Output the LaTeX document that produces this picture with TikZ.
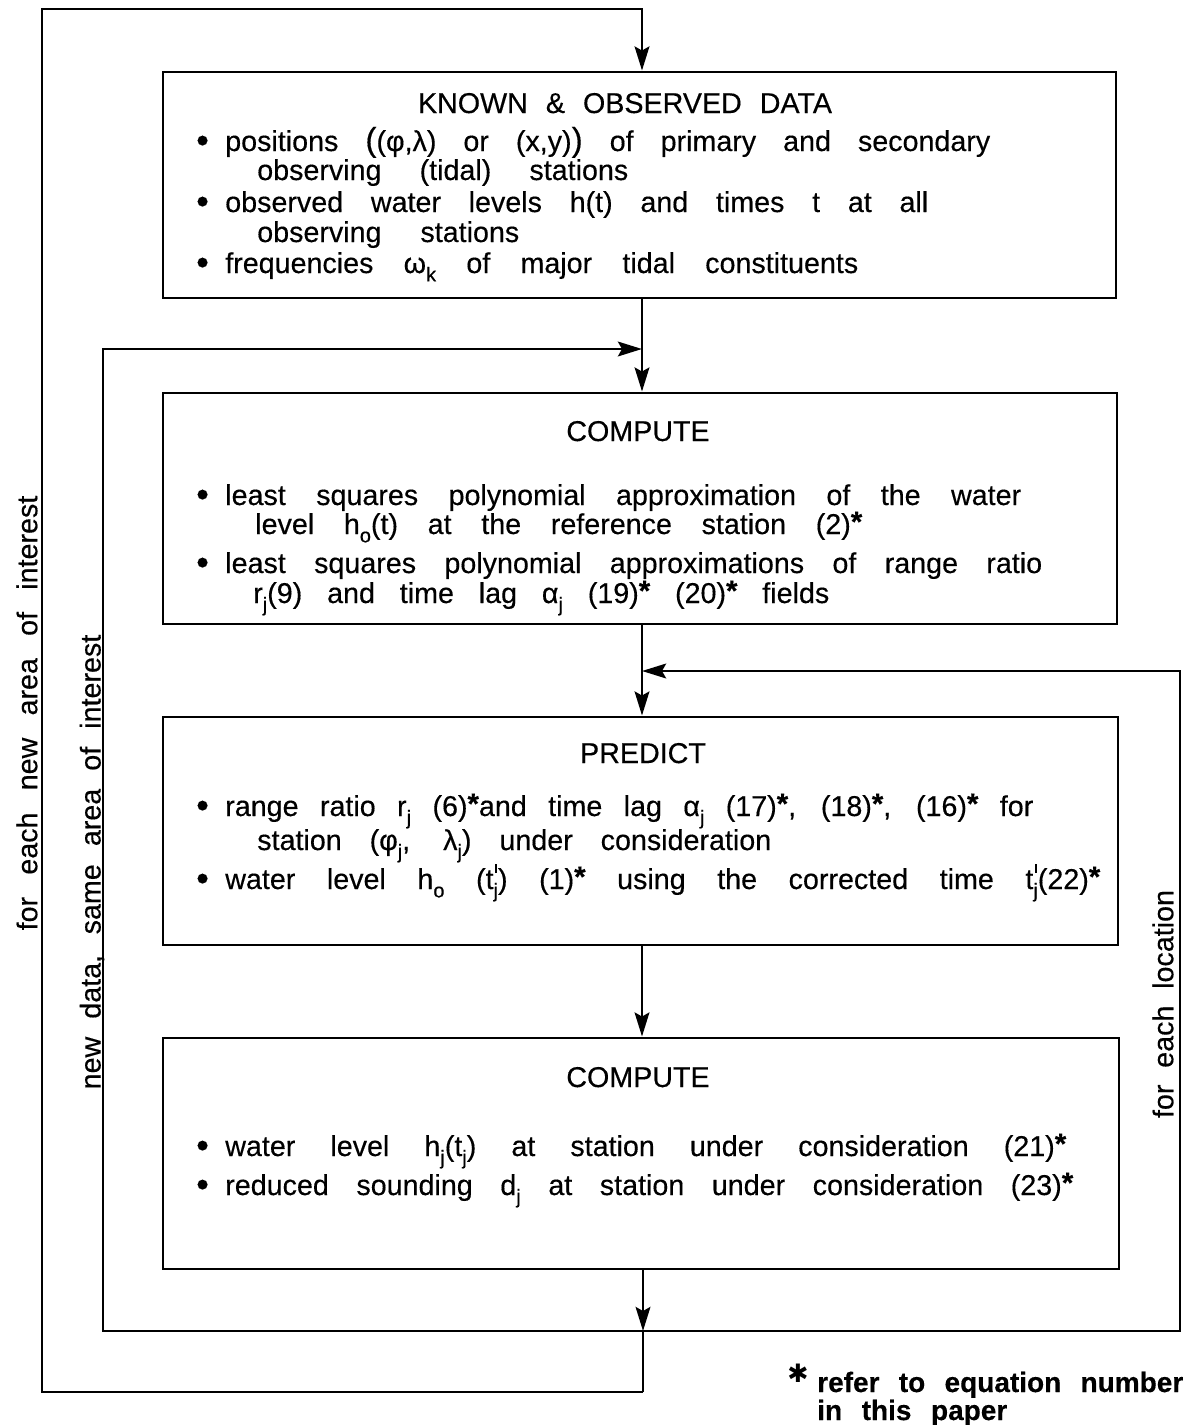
\documentclass[tikz,border=0pt]{standalone}
\usepackage{fontspec}
\setmainfont{Liberation Sans}[FakeBold=0.35]
\newfontfamily\symf{DejaVu Sans}
\usetikzlibrary{arrows.meta}
\newcommand\lo[1]{\smash{\raisebox{-0.55ex}{\fontsize{15}{15}\selectfont #1}}}
\newcommand\st{\smash{\raisebox{0.15ex}{\fontsize{22}{22}\selectfont\bfseries *}}}
\newcommand\ps{\smash{\rlap{\hspace{1.2pt}\raisebox{1.05ex}{\rule{1.4pt}{6.5pt}}}\raisebox{-0.55ex}{\fontsize{15}{15}\selectfont j}}}
\newcommand\bp[1]{{\fontsize{25}{25}\selectfont #1}}
\newcommand\bl[2]{\makebox[21.75pt][l]{\raisebox{-0.1ex}{\fontsize{27}{27}\selectfont\textbullet}}\makebox[#1][s]{#2}}
\newcommand\cl[2]{\makebox[#1][s]{#2}}
\begin{document}
\begin{tikzpicture}[x=0.75pt,y=-0.75pt,
  box/.style={draw, line width=2.2pt, inner sep=0pt},
  ln/.style={line width=2.2pt},
  arr/.style={line width=2.2pt, -{Stealth[length=18pt,width=11pt,inset=3pt]}},
  txt/.style={anchor=base west, inner sep=0pt, font=\fontsize{21.5}{25}\selectfont},
  head/.style={anchor=base, inner sep=0pt, font=\fontsize{21.5}{25}\selectfont},
  vlab/.style={inner sep=0pt, font=\fontsize{21.5}{25}\selectfont},
  note/.style={anchor=base west, inner sep=0pt, font=\bfseries\fontsize{21}{25}\selectfont}]
\path[use as bounding box, fill=white] (0,0) rectangle (1190,1425);

% boxes
\node[box, minimum width=714.75pt, minimum height=169.5pt] (b1) at (639.5,185) {};
\node[box, minimum width=715.5pt, minimum height=173.25pt] (b2) at (640,508.5) {};
\node[box, minimum width=716.25pt, minimum height=171pt] (b3) at (640.5,831) {};
\node[box, minimum width=717pt, minimum height=173.25pt] (b4) at (641,1153.5) {};

% box 1 text
\node[head] (h1) at (625,113) {\makebox[310.5pt][s]{KNOWN \& OBSERVED DATA}};
\node[txt] (t11) at (196,151) {\bl{573.75pt}{positions \bp{(}(φ,λ) or (x,y)\bp{)} of primary and secondary}};
\node[txt] (t12) at (257,180) {\cl{278.25pt}{observing (tidal) stations}};
\node[txt] (t13) at (196,212) {\bl{527.25pt}{observed water levels h(t) and times t at all}};
\node[txt] (t14) at (257,242) {\cl{196.5pt}{observing stations}};
\node[txt] (t15) at (196,273) {\bl{474.75pt}{frequencies ω\lo{k} of major tidal constituents}};

% box 2 text
\node[head] (h2) at (638,441) {COMPUTE};
\node[txt] (t21) at (196,505) {\bl{597pt}{least squares polynomial approximation of the water}};
\node[txt] (t22) at (255,534) {\cl{455.25pt}{level h\lo{o}(t) at the reference station (2)\st}};
\node[txt] (t23) at (196,573) {\bl{612.75pt}{least squares polynomial approximations of range ratio}};
\node[txt] (t24) at (253,603) {\cl{432pt}{r\lo{j}(9) and time lag α\lo{j} (19)\st{} (20)\st{} fields}};

% box 3 text
\node[head] (h3) at (643,763) {PREDICT};
\node[txt] (t31) at (196,816) {\bl{606pt}{range ratio r\lo{j} (6)\st{}and time lag α\lo{j} (17)\st, (18)\st, (16)\st{} for}};
\node[txt] (t32) at (257,850) {\cl{385.5pt}{station (φ\lo{j}, λ\lo{j}) under consideration}};
\node[txt] (t33) at (196,889) {\bl{656.25pt}{water level h\lo{o} (t\ps) (1)\st{} using the corrected time t\ps(22)\st}};

% box 4 text
\node[head] (h4) at (638,1087) {COMPUTE};
\node[txt] (t41) at (196,1156) {\bl{630.75pt}{water level h\lo{j}(t\lo{j}) at station under consideration (21)\st}};
\node[txt] (t42) at (196,1195) {\bl{636pt}{reduced sounding d\lo{j} at station under consideration (23)\st}};

% side labels
\node[vlab, rotate=90] (l1) at (27,713) {\makebox[326pt][s]{for each new area of interest}};
\node[vlab, rotate=90] (l2) at (92,862) {\makebox[341pt][s]{new data, same area of interest}};
\node[vlab, rotate=90] (l3) at (1163,1004) {\makebox[171pt][s]{for each location}};

% note
\node[inner sep=0pt] (ast) at (798,1373) {\symf\fontsize{19}{19}\selectfont ✱};
\node[note] (n1) at (817,1392) {\makebox[274.5pt][s]{refer to equation number}};
\node[note] (n2) at (817,1420) {\makebox[142.5pt][s]{in this paper}};

% coordinates
\coordinate (cx) at (642,0);
\coordinate (j1) at (643,1331);
\coordinate (j2) at (643,1392);
\coordinate (oLt) at (42,9);
\coordinate (iLt) at (103,349);
\coordinate (m2) at (642,349);
\coordinate (rRt) at (1180,671);
\coordinate (m3) at (642,671);

% connectors
\draw[arr] (b1.south -| cx) -- (b2.north -| cx);
\draw[arr] (b2.south -| cx) -- (b3.north -| cx);
\draw[arr] (b3.south -| cx) -- (b4.north -| cx);
\draw[arr] (b4.south -| j1) -- (j1);
\draw[ln] (j1) -- (j2);
\draw[arr] (j2) -| (oLt) -| (b1.north -| cx);
\draw[arr] (j1) -| (iLt) -- (m2);
\draw[arr] (j1) -| (rRt) -- (m3);
\end{tikzpicture}
\end{document}
